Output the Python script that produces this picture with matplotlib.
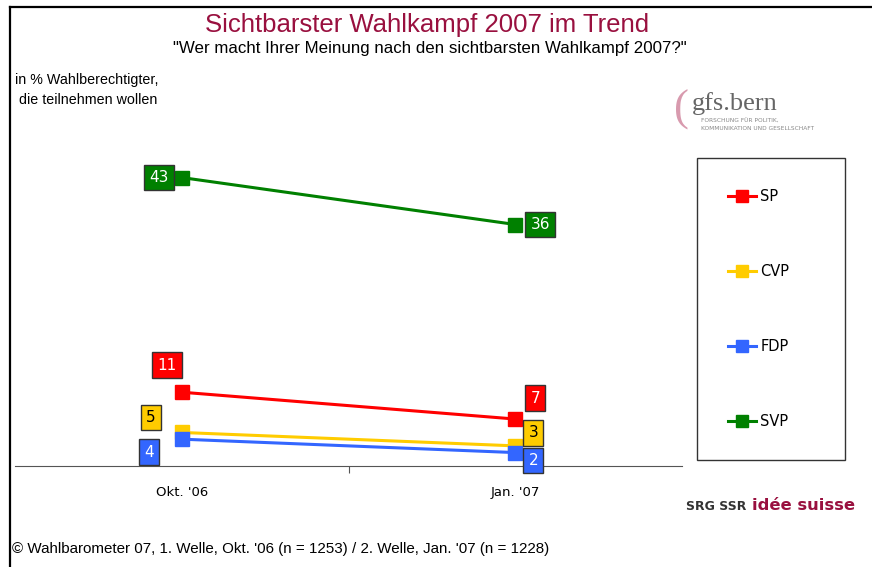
import matplotlib.pyplot as plt
from matplotlib.lines import Line2D

# data
waves = ["Okt. '06", "Jan. '07"]
parties = ["SP", "CVP", "FDP", "SVP"]
sp = [11, 7]
cvp = [5, 3]
fdp = [4, 2]
svp = [43, 36]
colors = ["#ff0000", "#ffcc00", "#3366ff", "#008000"]
text_colors = ["white", "black", "white", "white"]

# label offsets in pixels (one pair per wave)
offsets = [[(-15, 27), (20, 21)],
           [(-31, 15), (18, 13)],
           [(-33, -13), (18, -8)],
           [(-23, 0), (25, 0)]]

W, H = 872, 567
fig = plt.figure(figsize=(W / 100, H / 100), dpi=100)
plt.rcParams['font.family'] = ['DejaVu Sans']

def fx(x):
    return x / W

def fy(y):
    return 1 - y / H

# frame lines (left and top)
fig.add_artist(Line2D([fx(10), fx(10)], [0, fy(7)], color="black", lw=1.6))
fig.add_artist(Line2D([fx(10), 1], [fy(7), fy(7)], color="black", lw=1.6))

ax = fig.add_axes([fx(15), fy(466), fx(682) - fx(15), fy(144) - fy(466)])
x = [0.5, 1.5]
series = [sp, cvp, fdp, svp]
handles = []
for vals, c, tc, offs, name in zip(series, colors, text_colors, offsets, parties):
    ln, = ax.plot(x, vals, color=c, lw=2.2, marker="s", markersize=9.5, label=name)
    handles.append(ln)
    for xi, v, off in zip(x, vals, offs):
        ax.annotate(str(v), (xi, v), xytext=off, textcoords="offset pixels",
                    ha="center", va="center", fontsize=11, color=tc,
                    bbox=dict(boxstyle="square,pad=0.35", fc=c, ec="#333333", lw=1))

ax.set_xlim(0, 2)
ax.set_ylim(0, 48)
for s in ["top", "right", "left"]:
    ax.spines[s].set_visible(False)
ax.spines["bottom"].set_color("#555555")
ax.set_yticks([])
ax.set_xticks([1])
ax.set_xticklabels([])
ax.tick_params(axis="x", direction="out", length=5, color="#555555")
for xi, lab in zip(x, waves):
    ax.text(xi, -4, lab, ha="center", va="center", fontsize=9.5,
            transform=ax.transData, clip_on=False)

# legend
leg = fig.legend(handles, parties,
                 loc="upper left", bbox_to_anchor=(fx(697), fy(158), fx(845) - fx(697), 0),
                 mode="expand", fontsize=10.5, frameon=True, fancybox=False,
                 edgecolor="black", borderpad=2.15, labelspacing=4.1, borderaxespad=0,
                 handlelength=1.9, handletextpad=0.3, markerscale=0.85)
leg.get_frame().set_linewidth(1.0)

# titles
fig.text(fx(427), fy(25), "Sichtbarster Wahlkampf 2007 im Trend", ha="center", va="center",
         fontsize=18.5, color="#99103f", family="Liberation Sans")
fig.text(fx(430), fy(49), "\"Wer macht Ihrer Meinung nach den sichtbarsten Wahlkampf 2007?\"",
         ha="center", va="center", fontsize=12.2, family="Liberation Sans")
fig.text(fx(15), fy(80), "in % Wahlberechtigter,", ha="left", va="center", fontsize=10.3,
         family="Liberation Sans")
fig.text(fx(19), fy(100), "die teilnehmen wollen", ha="left", va="center", fontsize=10.3,
         family="Liberation Sans")
fig.text(fx(12), fy(549),
         "\u00a9 Wahlbarometer 07, 1. Welle, Okt. '06 (n = 1253) / 2. Welle, Jan. '07 (n = 1228)",
         ha="left", va="center", fontsize=10.9, family="Liberation Sans")

# gfs.bern logo
fig.text(fx(674), fy(110), "(", ha="left", va="center", fontsize=32, color="#d89aae",
         family="Liberation Serif")
fig.text(fx(692), fy(104), "gfs.bern", ha="left", va="center", fontsize=19, color="#666666",
         family="Liberation Serif")
fig.text(fx(701), fy(121), "FORSCHUNG FÜR POLITIK,", ha="left", va="center", fontsize=4.2,
         color="#888888")
fig.text(fx(701), fy(129), "KOMMUNIKATION UND GESELLSCHAFT", ha="left", va="center",
         fontsize=4.2, color="#888888")

# SRG SSR logo
fig.text(fx(686), fy(506), "SRG SSR", ha="left", va="center", fontsize=9,
         fontweight="bold", color="#333333")
fig.text(fx(752), fy(505), "idée suisse", ha="left", va="center", fontsize=11.8,
         fontweight="bold", color="#99103f")

fig.savefig("out.png", dpi=100)
